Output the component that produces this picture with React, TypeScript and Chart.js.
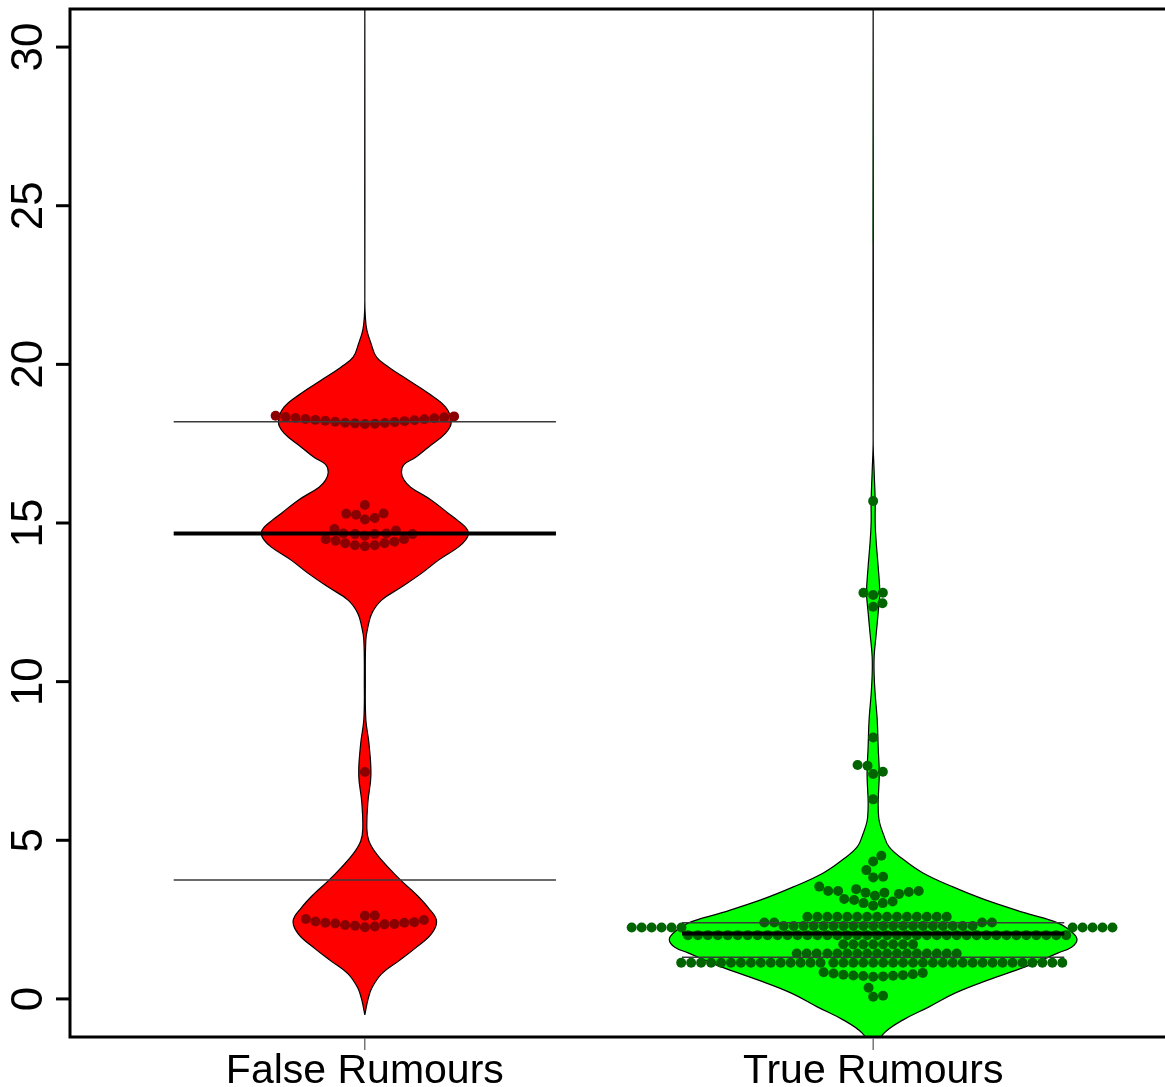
import React, { useEffect, useRef } from "react";
import { Chart, registerables } from "chart.js";

Chart.register(...registerables);

// ---------------- data ----------------
const categories = ["False Rumours", "True Rumours"];
const categoryPositions = [1, 2];
const yTicks = [0, 5, 10, 15, 20, 25, 30];

// violin outline: value (y) and half-width (category units)
const falseViolinY = [
  -0.5, -0.03, 0.35, 0.79, 1.2, 1.61, 2.05, 2.46, 2.87, 3.31, 3.72, 4.13, 4.57,
  4.98, 5.36, 6.2, 7.06, 8.07, 8.8, 10.0, 11.31, 11.72, 12.16, 12.57, 12.98,
  13.42, 13.83, 14.24, 14.46, 14.68, 14.87, 15.09, 15.31, 15.72, 16.13, 16.36,
  16.6, 16.84, 17.07, 17.39, 17.83, 18.18, 18.65, 19.09, 19.5, 19.91, 20.23,
  20.67, 21.08, 21.5, 22.0, 31.5,
];
const falseViolinW = [
  0, 0.006, 0.014, 0.033, 0.067, 0.1, 0.131, 0.141, 0.125, 0.1, 0.072, 0.047,
  0.023, 0.008, 0.004, 0.006, 0.012, 0.008, 0.002, 0.001, 0.002, 0.006, 0.014,
  0.033, 0.072, 0.112, 0.145, 0.184, 0.198, 0.204, 0.198, 0.182, 0.164, 0.131,
  0.09, 0.077, 0.072, 0.077, 0.1, 0.125, 0.159, 0.17, 0.159, 0.125, 0.086,
  0.047, 0.023, 0.012, 0.004, 0.001, 0, 0,
];
const trueViolinY = [
  -1.6, -1.07, -0.66, -0.25, 0.19, 0.6, 1.01, 1.45, 1.64, 1.86, 2.08, 2.39,
  2.71, 3.12, 3.53, 3.97, 4.4, 4.8, 5.2, 5.6, 6.0, 6.3, 7.1, 7.9, 8.8, 9.6,
  10.2, 10.8, 11.5, 12.2, 12.8, 13.6, 14.4, 15.0, 15.7, 16.6, 17.6, 31.5,
];
const trueViolinW = [
  0, 0.022, 0.059, 0.11, 0.162, 0.227, 0.299, 0.364, 0.391, 0.401, 0.393,
  0.364, 0.299, 0.221, 0.157, 0.098, 0.059, 0.031, 0.02, 0.012, 0.01, 0.01,
  0.012, 0.01, 0.008, 0.004, 0.002, 0.002, 0.006, 0.01, 0.013, 0.01, 0.006,
  0.004, 0.004, 0.002, 0, 0,
];

// bean lines
const falseMean = 14.67;
const falseQuantiles = [18.19, 3.75];
const trueMean = 2.06;
const trueQuantiles = [2.4, 1.31];
const beanLineHalfWidth = 0.376;

// observations (beeswarm)
const falseValues = [
  2.26, 2.28, 2.31, 2.33, 2.35, 2.36, 2.38, 2.4, 2.4, 2.42, 2.44, 2.49, 2.52,
  2.62, 2.63,
  7.15,
  14.27, 14.3, 14.3, 14.36, 14.36, 14.41, 14.44, 14.49, 14.49, 14.6, 14.65,
  14.65, 14.65, 14.67, 14.67, 14.76, 14.81,
  15.11, 15.16, 15.26, 15.29, 15.3, 15.57,
  18.12, 18.13, 18.14, 18.15, 18.16, 18.18, 18.19, 18.21, 18.22, 18.24, 18.25,
  18.27, 18.28, 18.3, 18.31, 18.33, 18.34, 18.36, 18.38,
];
const trueValues = [
  0.07, 0.1, 0.35,
  0.7, 0.71, 0.72, 0.73, 0.74, 0.75, 0.76, 0.78, 0.8, 0.82, 0.84,
  1.14, 1.14, 1.14, 1.14, 1.14, 1.14, 1.14, 1.14, 1.14, 1.14,
  1.14, 1.14, 1.14, 1.14, 1.14, 1.14, 1.14, 1.14, 1.14, 1.14,
  1.14, 1.14, 1.14, 1.14, 1.14, 1.14, 1.14, 1.14, 1.14, 1.14,
  1.14, 1.14, 1.14, 1.14, 1.14, 1.14, 1.14, 1.14, 1.14,
  1.43, 1.43, 1.43, 1.43, 1.43, 1.43, 1.43, 1.43, 1.43, 1.43,
  1.43, 1.43, 1.43, 1.43, 1.43, 1.43, 1.43,
  1.72, 1.72, 1.72, 1.72, 1.72, 1.72, 1.72, 1.72,
  2.01, 2.01, 2.01, 2.01, 2.01, 2.01, 2.01, 2.01, 2.01, 2.01,
  2.01, 2.01, 2.01, 2.01, 2.01, 2.01, 2.01, 2.01, 2.01, 2.01,
  2.01, 2.01, 2.01, 2.01, 2.01, 2.01, 2.01, 2.01, 2.01, 2.01,
  2.01, 2.01, 2.01, 2.01, 2.01, 2.01, 2.01, 2.01, 2.01,
  2.25, 2.25, 2.25, 2.25, 2.25, 2.25, 2.25, 2.25, 2.25, 2.25, 2.25,
  2.3, 2.3, 2.3, 2.3, 2.3, 2.3, 2.3, 2.3, 2.3, 2.3,
  2.3, 2.3, 2.3, 2.3, 2.3, 2.3, 2.3, 2.3, 2.3, 2.3,
  2.41, 2.41, 2.41, 2.41,
  2.59, 2.59, 2.59, 2.59, 2.59, 2.59, 2.59, 2.59, 2.59, 2.59,
  2.59, 2.59, 2.59, 2.59, 2.59,
  2.94, 3.02, 3.02, 3.07, 3.12,
  3.15, 3.25, 3.31, 3.35, 3.35, 3.37, 3.4, 3.4, 3.4, 3.46, 3.54,
  3.83, 3.85, 4.06, 4.33, 4.51,
  6.29, 7.09, 7.16, 7.35, 7.37, 8.24,
  12.36, 12.47, 12.73, 12.8, 12.8, 15.69,
];

// ---------------- styling ----------------
const X_MIN = 0.42;
const X_MAX = 2.5643;
const Y_MIN = -1.2;
const Y_MAX = 31.2;
const DOT_DIAMETER = 10;
const FONT = '"Liberation Sans", Arial, Helvetica, sans-serif';

function violinPath(center: number, ys: number[], ws: number[]) {
  const right = ys.map((y, i) => ({ x: center + ws[i], y }));
  const left: { x: number; y: number }[] = [];
  for (let i = ys.length - 2; i >= 0; i--) left.push({ x: center - ws[i], y: ys[i] });
  return right.concat(left);
}

function hline(center: number, y: number, width: number, color: string) {
  return {
    type: "line" as const,
    data: [
      { x: center - beanLineHalfWidth, y },
      { x: center + beanLineHalfWidth, y },
    ],
    borderColor: color,
    borderWidth: width,
    pointRadius: 0,
    pointHoverRadius: 0,
    fill: false,
    order: 0,
  };
}

// R beeswarm "swarm" layout (priority ascending), computed in pixels
function swarmOffsets(values: number[], pix: number[], D: number): number[] {
  const idx = values.map((_, i) => i).sort((a, b) => values[a] - values[b] || a - b);
  const px: number[] = [];
  const py: number[] = [];
  const out = new Array(values.length).fill(0);
  for (const i of idx) {
    const yi = pix[i];
    const nx: number[] = [];
    const ny: number[] = [];
    for (let k = 0; k < px.length; k++) {
      if (Math.abs(py[k] - yi) < D) {
        nx.push(px[k]);
        ny.push(py[k]);
      }
    }
    let x = 0;
    if (nx.length) {
      const offs = ny.map((y) => Math.sqrt(D * D - (y - yi) * (y - yi)));
      const cands = [0, ...nx.map((v, j) => v + offs[j]), ...nx.map((v, j) => v - offs[j])];
      let best = Infinity;
      for (const c of cands) {
        const bad = nx.some(
          (v, j) => ((c - v) * (c - v) + (ny[j] - yi) * (ny[j] - yi)) / (D * D) < 0.999
        );
        if (!bad && Math.abs(c) < Math.abs(best)) best = c;
      }
      x = best;
    }
    out[i] = x;
    px.push(x);
    py.push(yi);
  }
  return out;
}

const violinFillPlugin = {
  id: "violinFill",
  beforeDatasetDraw(chart: any, args: any) {
    const ds = chart.data.datasets[args.index];
    if (!ds.violinFill) return;
    const meta = args.meta;
    const { ctx, chartArea: a } = chart;
    ctx.save();
    ctx.beginPath();
    ctx.rect(a.left, a.top, a.right - a.left, a.bottom - a.top);
    ctx.clip();
    ctx.beginPath();
    meta.dataset.path(ctx);
    ctx.closePath();
    ctx.fillStyle = ds.violinFill;
    ctx.fill();
    ctx.restore();
  },
};

const axesPlugin = {
  id: "rAxes",
  afterDraw(chart: any) {
    const { ctx, chartArea: a, scales } = chart;
    const xs = scales.x;
    const ys = scales.y;
    ctx.save();
    ctx.strokeStyle = "#000";
    ctx.lineWidth = 3;
    ctx.lineJoin = "miter";
    ctx.strokeRect(a.left, a.top, a.right + 10 - a.left, a.bottom - a.top);

    ctx.lineCap = "butt";
    for (const t of yTicks) {
      const p = ys.getPixelForValue(t);
      ctx.beginPath();
      ctx.moveTo(a.left - 14, p);
      ctx.lineTo(a.left, p);
      ctx.stroke();
    }
    ctx.fillStyle = "#000";
    ctx.font = `44px ${FONT}`;
    ctx.textAlign = "center";
    ctx.textBaseline = "alphabetic";
    for (const t of yTicks) {
      const p = ys.getPixelForValue(t);
      ctx.save();
      ctx.translate(42, p);
      ctx.rotate(-Math.PI / 2);
      ctx.fillText(String(t), 0, 0);
      ctx.restore();
    }

    ctx.lineWidth = 1;
    ctx.strokeStyle = "#333";
    ctx.font = `41px ${FONT}`;
    categoryPositions.forEach((c, i) => {
      const p = xs.getPixelForValue(c);
      ctx.beginPath();
      ctx.moveTo(p, a.bottom + 1.5);
      ctx.lineTo(p, a.bottom + 13);
      ctx.stroke();
      ctx.fillText(categories[i], p, 1083);
    });
    ctx.restore();
  },
};

export default function App() {
  const canvasRef = useRef<HTMLCanvasElement | null>(null);

  useEffect(() => {
    const canvas = canvasRef.current;
    if (!canvas) return;

    const datasets: any[] = [
      hline(1, falseQuantiles[0], 1.5, "#3a3a3a"),
      hline(1, falseQuantiles[1], 1.5, "#3a3a3a"),
      hline(1, falseMean, 4, "#000000"),
      hline(2, trueQuantiles[0], 1.5, "#3a3a3a"),
      hline(2, trueQuantiles[1], 1.5, "#3a3a3a"),
      hline(2, trueMean, 4, "#000000"),
      {
        type: "line",
        data: [],
        showLine: false,
        pointRadius: DOT_DIAMETER / 2,
        pointHoverRadius: DOT_DIAMETER / 2,
        pointBorderWidth: 0,
        pointBackgroundColor: "#8B0000",
        borderColor: "#8B0000",
        order: 1,
      },
      {
        type: "line",
        data: [],
        showLine: false,
        pointRadius: DOT_DIAMETER / 2,
        pointHoverRadius: DOT_DIAMETER / 2,
        pointBorderWidth: 0,
        pointBackgroundColor: "#006400",
        borderColor: "#006400",
        order: 1,
      },
      {
        type: "line",
        data: violinPath(1, falseViolinY, falseViolinW),
        borderColor: "#000000",
        borderWidth: 1.2,
        pointRadius: 0,
        pointHoverRadius: 0,
        tension: 0.4,
        fill: false,
        violinFill: "#FF0000",
        order: 2,
      },
      {
        type: "line",
        data: violinPath(2, trueViolinY, trueViolinW),
        borderColor: "#000000",
        borderWidth: 1.2,
        pointRadius: 0,
        pointHoverRadius: 0,
        tension: 0.4,
        fill: false,
        violinFill: "#00FF00",
        order: 2,
      },
    ];

    const chart = new Chart(canvas, {
      type: "line",
      data: { datasets },
      options: {
        responsive: false,
        animation: false,
        devicePixelRatio: 1,
        layout: { padding: { left: 70, top: 9, right: 0, bottom: 50 } },
        plugins: { legend: { display: false }, tooltip: { enabled: false } },
        events: [],
        scales: {
          x: { type: "linear", min: X_MIN, max: X_MAX, display: false },
          y: { type: "linear", min: Y_MIN, max: Y_MAX, display: false },
        },
      },
      plugins: [violinFillPlugin, axesPlugin],
    } as any);

    const xs: any = chart.scales.x;
    const ys: any = chart.scales.y;
    const place = (center: number, values: number[]) => {
      const pix = values.map((v) => ys.getPixelForValue(v));
      const offs = swarmOffsets(values, pix, DOT_DIAMETER);
      const cx = xs.getPixelForValue(center);
      return values.map((v, i) => ({ x: xs.getValueForPixel(cx + offs[i]), y: v }));
    };
    chart.data.datasets[6].data = place(categoryPositions[0], falseValues) as any;
    chart.data.datasets[7].data = place(categoryPositions[1], trueValues) as any;
    chart.update("none");

    return () => chart.destroy();
  }, []);

  return (
    <div style={{ position: "absolute", left: 0, top: 0, width: 1165, height: 1087, background: "#fff" }}>
      <canvas ref={canvasRef} width={1165} height={1087} style={{ display: "block" }} />
    </div>
  );
}
